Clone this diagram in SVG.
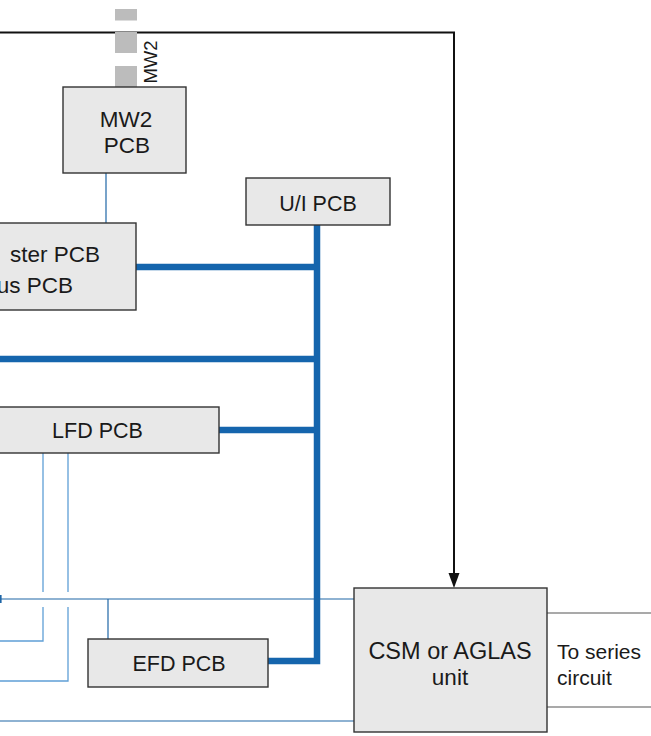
<svg xmlns="http://www.w3.org/2000/svg" width="651" height="736" viewBox="0 0 651 736">
<style>
.box{fill:#e8e8e8;stroke:#333;stroke-width:1.4}
.t{font-family:"Liberation Sans",Arial,sans-serif;fill:#1a1a1a}
.big{font-size:22.5px}
.mid{font-size:21.5px}
.bus{fill:none;stroke:#1565ad;stroke-width:6.5;stroke-linecap:butt;stroke-linejoin:miter}
.thin{fill:none;stroke:#1f66a6;stroke-width:1.2}
.lt{fill:none;stroke:#5f9fd6;stroke-width:1.3}
.grey{fill:none;stroke:#555;stroke-width:1.2}
.blk{fill:none;stroke:#111;stroke-width:2}
.sq{fill:#bcbcbc}
</style>
<g id="connectors">
<path class="blk" d="M0,32.5 H454 V573" />
<path d="M448.5,573 H459.5 L454,588 Z" fill="#111"/>
<path class="thin" d="M106,173 V223"/>
<path class="bus" d="M317,225 V661 H268"/>
<path class="bus" d="M136,267 H317"/>
<path class="bus" d="M0,359 H317"/>
<path class="bus" d="M219,430 H317"/>
<path class="lt" d="M43,453 V592 M43,607 V641 H0"/>
<path class="lt" d="M68,453 V592 M68,607 V681 H0"/>
<path class="thin" d="M0,599 H355"/>
<rect x="0" y="595" width="1.6" height="8" fill="#1f66a6"/>
<path class="thin" d="M108,599 V639"/>
<path class="thin" d="M0,721 H355"/>
<path class="grey" d="M547,613 H651 M547,707 H651"/>
</g>
<g id="mw2-connector">
<rect class="sq" x="115" y="9" width="22" height="11.5"/>
<rect class="sq" x="115" y="32" width="22" height="21"/>
<rect class="sq" x="115" y="66" width="22" height="21"/>
<text class="t" font-size="18.5" transform="translate(157,62) rotate(-90)" text-anchor="middle">MW2</text>
</g>
<g id="mw2-pcb">
<rect class="box" x="63" y="87" width="123" height="86"/>
<text class="t big" x="126" y="127" text-anchor="middle">MW2</text>
<text class="t big" x="127" y="153" text-anchor="middle">PCB</text>
</g>
<g id="master-pcb">
<rect class="box" x="-5" y="223" width="141" height="87"/>
<text class="t big" x="100" y="262" text-anchor="end">ster PCB</text>
<text class="t big" x="73" y="293" text-anchor="end">us PCB</text>
</g>
<g id="ui-pcb">
<rect class="box" x="246" y="178" width="144" height="47"/>
<text class="t mid" x="318" y="211" text-anchor="middle">U/I PCB</text>
</g>
<g id="lfd-pcb">
<rect class="box" x="-25" y="407" width="244" height="46"/>
<text class="t mid" x="97.5" y="438" text-anchor="middle">LFD PCB</text>
</g>
<g id="efd-pcb">
<rect class="box" x="88" y="639" width="180" height="48"/>
<text class="t mid" x="179" y="671" text-anchor="middle">EFD PCB</text>
</g>
<g id="csm-unit">
<rect class="box" x="354" y="588" width="193" height="144"/>
<text class="t" font-size="23.5" x="450" y="659" text-anchor="middle">CSM or AGLAS</text>
<text class="t big" x="450" y="685" text-anchor="middle">unit</text>
</g>
<g id="series-label">
<text class="t" font-size="21" x="557" y="659">To series</text>
<text class="t" font-size="21" x="557" y="685">circuit</text>
</g>
</svg>
